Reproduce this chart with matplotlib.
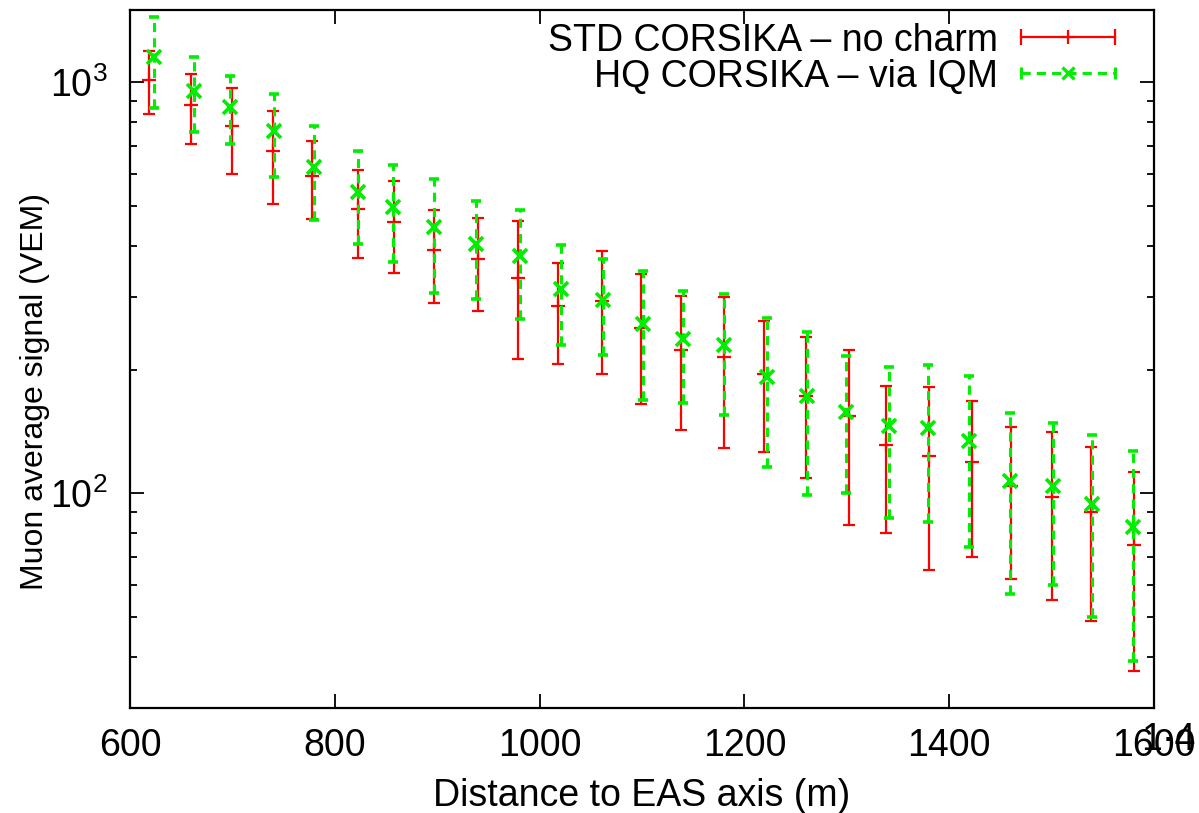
import matplotlib
matplotlib.use("Agg")
import matplotlib.pyplot as plt
import numpy as np
from matplotlib.lines import Line2D
from matplotlib.legend_handler import HandlerLine2D, HandlerTuple
from matplotlib.ticker import LogLocator, FixedLocator, NullFormatter, NullLocator

plt.rcParams['font.family'] = ['Liberation Sans', 'DejaVu Sans']
plt.rcParams['mathtext.fontset'] = 'custom'
plt.rcParams['mathtext.rm'] = 'Liberation Sans'

# STD CORSIKA - no charm
dist_std = [619, 660, 700, 740, 778, 823, 858, 897, 940, 979, 1018, 1061, 1099,
            1138, 1180, 1219, 1260, 1302, 1338, 1380, 1422, 1460, 1500, 1538, 1580]
sig_std = [1013, 881, 783, 679, 593, 493, 458, 390, 372, 335, 285, 293, 253,
           223, 215, 195, 173, 154, 131, 123, 119, 104, 98, 90, 75]
lo_std = [836, 710, 597, 507, 465, 373, 343, 290, 278, 212, 207, 195, 165,
          143, 129, 126, 109, 84, 80, 65, 70, 62, 55, 49, 37]
hi_std = [1193, 1049, 969, 852, 720, 611, 575, 490, 468, 459, 364, 389, 342,
          303, 300, 263, 240, 223, 183, 181, 168, 145, 141, 130, 113]

# HQ CORSIKA - via IQM
dist_hq = [623, 663, 698, 741, 780, 823, 857, 897, 938, 981, 1021, 1062, 1101,
           1140, 1180, 1222, 1261, 1299, 1341, 1379, 1419, 1459, 1501, 1539, 1579]
sig_hq = [1154, 954, 871, 762, 624, 542, 498, 445, 405, 378, 315, 295, 259,
          238, 230, 192, 173, 158, 146, 144, 134, 107, 104, 94, 83]
lo_hq = [865, 757, 707, 589, 463, 404, 366, 308, 297, 266, 229, 217, 169,
         166, 155, 116, 99, 100, 87, 85, 74, 57, 60, 50, 39]
hi_hq = [1443, 1150, 1034, 937, 783, 680, 630, 583, 515, 490, 403, 372, 347,
         311, 306, 267, 247, 216, 203, 205, 193, 157, 148, 139, 127]

labels = ["STD CORSIKA \u2013 no charm", "HQ CORSIKA \u2013 via IQM"]
x_ticks = [600, 800, 1000, 1200, 1400, 1600]

RED = '#ff0000'
GREEN = '#00ee00'
FS = 27

fig = plt.figure(figsize=(11.99, 8.13), dpi=100)
ax = fig.add_axes([0.1084, 0.1288, 0.9625 - 0.1084, 0.9877 - 0.1288])

s = np.array(sig_std)
eb1 = ax.errorbar(dist_std, s, yerr=[s - np.array(lo_std), np.array(hi_std) - s],
                  fmt='+', color=RED, ms=10, mew=1.6, elinewidth=1.6,
                  capsize=4.2, capthick=1.6, zorder=3)
h = np.array(sig_hq)
eb2 = ax.errorbar(dist_hq, h, yerr=[h - np.array(lo_hq), np.array(hi_hq) - h],
                  fmt='x', color=GREEN, ms=10, mew=2.6, elinewidth=2.2,
                  capsize=3.5, capthick=2.2, zorder=4)
for lc in eb2[2]:
    lc.set_linestyle((0, (3, 2)))

ax.set_yscale('log')
ax.set_xlim(600, 1600)
ax.set_ylim(30, 1500)
ax.xaxis.set_major_locator(FixedLocator(x_ticks))
ax.xaxis.set_minor_locator(NullLocator())
ax.set_xticklabels([str(t) for t in x_ticks])
ax.yaxis.set_major_locator(LogLocator(base=10, numticks=10))
ax.yaxis.set_minor_locator(LogLocator(base=10, subs=np.arange(2, 10), numticks=20))
ax.yaxis.set_minor_formatter(NullFormatter())

ax.tick_params(which='both', direction='in', top=True, right=True,
               labelsize=FS, width=1.3, colors='black')
ax.tick_params(which='major', length=10)
ax.tick_params(axis='x', which='major', pad=14)
ax.tick_params(axis='y', which='major', pad=16)
ax.tick_params(which='minor', length=5)
for sp in ax.spines.values():
    sp.set_linewidth(1.6)

ax.set_xlabel("Distance to EAS axis (m)", fontsize=FS, labelpad=10)
ax.set_ylabel("Muon average signal (VEM)", fontsize=23, va='center')
ax.yaxis.set_label_coords(-0.0928, 0.4542)

# stray overprinted label near the last x tick, as in the reference
fig.text(1168 / 1199, 1 - 750 / 813, "1\u00b74", fontsize=FS, ha='center',
         va='baseline')

# legend (gnuplot style: text right-justified, sample to the right)
r_line = Line2D([], [], color=RED, lw=1.6, marker='+', ms=10, mew=1.6)
r_caps = Line2D([], [], color=RED, ls='none', marker='|', ms=11, mew=1.6)
g_line = Line2D([], [], color=GREEN, lw=2.2, ls=(0, (3, 2)), marker='x', ms=9, mew=2.4)
g_caps = Line2D([], [], color=GREEN, ls='none', marker='|', ms=9, mew=2.2)
hmap = {r_line: HandlerLine2D(numpoints=1), g_line: HandlerLine2D(numpoints=1),
        r_caps: HandlerLine2D(numpoints=2, marker_pad=0.0),
        g_caps: HandlerLine2D(numpoints=2, marker_pad=0.0),
        tuple: HandlerTuple(ndivide=1)}
ax.legend([(r_line, r_caps), (g_line, g_caps)], labels, loc='upper right',
          bbox_to_anchor=(0.967, 0.99),
          frameon=False, markerfirst=False, fontsize=FS, handlelength=2.5,
          handletextpad=0.6, labelspacing=0.0, borderaxespad=0.0,
          borderpad=0.15, handler_map=hmap)

fig.savefig("out.png", dpi=100)
